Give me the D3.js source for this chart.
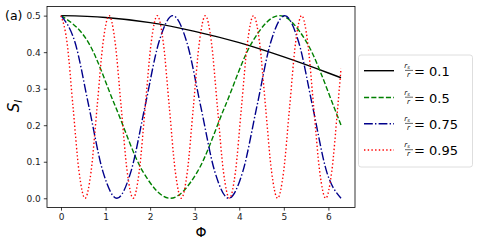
<!DOCTYPE html>
<html>
<head>
<meta charset="utf-8">
<script src="https://cdn.jsdelivr.net/npm/d3@7"></script>
<style>
  body { margin: 0; background: #fff; }
  text { font-family: "DejaVu Sans", sans-serif; }
</style>
</head>
<body>
<div id="chart"></div>
<script>
// values
const ratioLabels = ['0.1', '0.5', '0.75', '0.95'];
const seriesColors = ['#000000', '#008000', '#00008b', '#ff0000'];

const phiBlack = [0, 1, 2, 3, 4, 5, 6, 6.283];
const sBlack = [0.5, 0.495, 0.481, 0.457, 0.426, 0.387, 0.343, 0.330];

const phiGreen = [0, 0.6125, 1.225, 1.8375, 2.45, 3.0625, 3.675, 4.2875, 4.9, 5.5125, 6.125, 6.283];
const sGreen = [0.5, 0.427, 0.25, 0.073, 0, 0.073, 0.25, 0.427, 0.5, 0.427, 0.25, 0.2];

const phiBlue = [0, 0.314, 0.628, 0.941, 1.255, 1.569, 1.883, 2.196, 2.51, 2.824, 3.138,
  3.451, 3.765, 4.079, 4.393, 4.706, 5.02, 5.334, 5.648, 5.961, 6.283];
const sBlue = [0.5, 0.427, 0.25, 0.073, 0, 0.073, 0.25, 0.427, 0.5, 0.427, 0.25,
  0.073, 0, 0.073, 0.25, 0.427, 0.5, 0.427, 0.25, 0.073, 0];

const phiRed = [0, 0.135, 0.27, 0.405, 0.54, 0.675, 0.81, 0.945, 1.08, 1.215, 1.35, 1.485,
  1.62, 1.755, 1.89, 2.025, 2.16, 2.295, 2.43, 2.565, 2.7, 2.835, 2.97, 3.105, 3.24, 3.375,
  3.51, 3.645, 3.78, 3.915, 4.05, 4.185, 4.32, 4.455, 4.59, 4.725, 4.86, 4.995, 5.13, 5.265,
  5.4, 5.535, 5.67, 5.805, 5.94, 6.075, 6.21, 6.283];
const sRed = [0.5, 0.427, 0.25, 0.073, 0, 0.073, 0.25, 0.427, 0.5, 0.427, 0.25, 0.073,
  0, 0.073, 0.25, 0.427, 0.5, 0.427, 0.25, 0.073, 0, 0.073, 0.25, 0.427, 0.5, 0.427,
  0.25, 0.073, 0, 0.073, 0.25, 0.427, 0.5, 0.427, 0.25, 0.073, 0, 0.073, 0.25, 0.427,
  0.5, 0.427, 0.25, 0.073, 0, 0.073, 0.25, 0.355];

const xTicks = [0, 1, 2, 3, 4, 5, 6];
const yTicks = [0.0, 0.1, 0.2, 0.3, 0.4, 0.5];

const series = [
  { phi: phiBlack, s: sBlack, dash: null, width: 1.4 },
  { phi: phiGreen, s: sGreen, dash: '5.1,2.2', width: 1.4 },
  { phi: phiBlue, s: sBlue, dash: '8.8,2.2,1.4,2.2', width: 1.4 },
  { phi: phiRed, s: sRed, dash: '1.4,2.3', width: 1.4 }
];

const W = 480, H = 249;
const plot = { left: 47, right: 355, top: 6.5, bottom: 207.4 };

const svg = d3.select('#chart').append('svg')
  .attr('width', W)
  .attr('height', H);

const x = d3.scaleLinear().domain([-0.314, 6.597]).range([plot.left, plot.right]);
const y = d3.scaleLinear().domain([-0.025, 0.525]).range([plot.bottom, plot.top]);

svg.append('clipPath').attr('id', 'clip')
  .append('rect')
  .attr('x', plot.left).attr('y', plot.top)
  .attr('width', plot.right - plot.left)
  .attr('height', plot.bottom - plot.top);

const line = d3.line()
  .x(d => x(d[0]))
  .y(d => y(d[1]))
  .curve(d3.curveMonotoneX);

const lines = svg.append('g').attr('clip-path', 'url(#clip)');
series.forEach((ser, i) => {
  lines.append('path')
    .datum(ser.phi.map((p, k) => [p, ser.s[k]]))
    .attr('fill', 'none')
    .attr('stroke', seriesColors[i])
    .attr('stroke-width', ser.width)
    .attr('stroke-dasharray', ser.dash)
    .attr('d', line);
});

// axes
const xAxis = d3.axisBottom(x).tickValues(xTicks).tickSize(3.2).tickPadding(3).tickFormat(d3.format('d'));
const yAxis = d3.axisLeft(y).tickValues(yTicks).tickSize(3.2).tickPadding(3).tickFormat(d3.format('.1f'));

const gx = svg.append('g')
  .attr('transform', 'translate(0,' + plot.bottom + ')')
  .call(xAxis);
const gy = svg.append('g')
  .attr('transform', 'translate(' + plot.left + ',0)')
  .call(yAxis);

[gx, gy].forEach(g => {
  g.select('.domain').remove();
  g.selectAll('.tick line').attr('stroke', '#000').attr('stroke-width', 0.75);
  g.selectAll('.tick text')
    .attr('fill', '#222')
    .style('font-size', '9px')
    .style('font-family', '"DejaVu Sans", sans-serif');
});

svg.append('rect')
  .attr('x', plot.left).attr('y', plot.top)
  .attr('width', plot.right - plot.left)
  .attr('height', plot.bottom - plot.top)
  .attr('fill', 'none')
  .attr('stroke', '#000')
  .attr('stroke-width', 0.8);

// labels
svg.append('text')
  .attr('x', (plot.left + plot.right) / 2)
  .attr('y', 237)
  .attr('text-anchor', 'middle')
  .style('font-size', '14px')
  .text('Φ');

const ylab = svg.append('text')
  .attr('transform', 'translate(19,106) rotate(-90)')
  .attr('text-anchor', 'middle')
  .style('font-size', '15px')
  .style('font-style', 'italic');
ylab.append('tspan').text('S');
ylab.append('tspan').attr('dy', 3).style('font-size', '10px').text('l');

svg.append('text')
  .attr('x', 5)
  .attr('y', 19.5)
  .style('font-size', '12.5px')
  .text('(a)');

// legend
const legend = svg.append('g');
legend.append('rect')
  .attr('x', 358.5).attr('y', 55)
  .attr('width', 114).attr('height', 112)
  .attr('rx', 2.5)
  .attr('fill', '#fff')
  .attr('fill-opacity', 0.8)
  .attr('stroke', '#d6d6d6')
  .attr('stroke-width', 0.8);

const entryY = [70.7, 97.5, 123.7, 150];
ratioLabels.forEach((lab, i) => {
  const ey = entryY[i];
  const ser = series[i];
  legend.append('line')
    .attr('x1', 364).attr('x2', 394)
    .attr('y1', ey).attr('y2', ey)
    .attr('stroke', seriesColors[i])
    .attr('stroke-width', ser.width)
    .attr('stroke-dasharray', ser.dash);

  const fx = 409;
  const num = legend.append('text')
    .attr('x', fx - 2).attr('y', ey - 2.6)
    .attr('text-anchor', 'middle')
    .style('font-size', '7px')
    .style('font-style', 'italic');
  num.append('tspan').text('r');
  num.append('tspan').attr('dy', 1).style('font-size', '5px').text('s');
  legend.append('line')
    .attr('x1', fx - 4).attr('x2', fx + 4)
    .attr('y1', ey - 0.3).attr('y2', ey - 0.3)
    .attr('stroke', '#000').attr('stroke-width', 0.6);
  legend.append('text')
    .attr('x', fx - 0.5).attr('y', ey + 6.3)
    .attr('text-anchor', 'middle')
    .style('font-size', '7px')
    .style('font-style', 'italic')
    .text('r');

  legend.append('text')
    .attr('x', 414).attr('y', ey + 5)
    .style('font-size', '13px')
    .text('= ' + lab);
});
</script>
</body>
</html>
